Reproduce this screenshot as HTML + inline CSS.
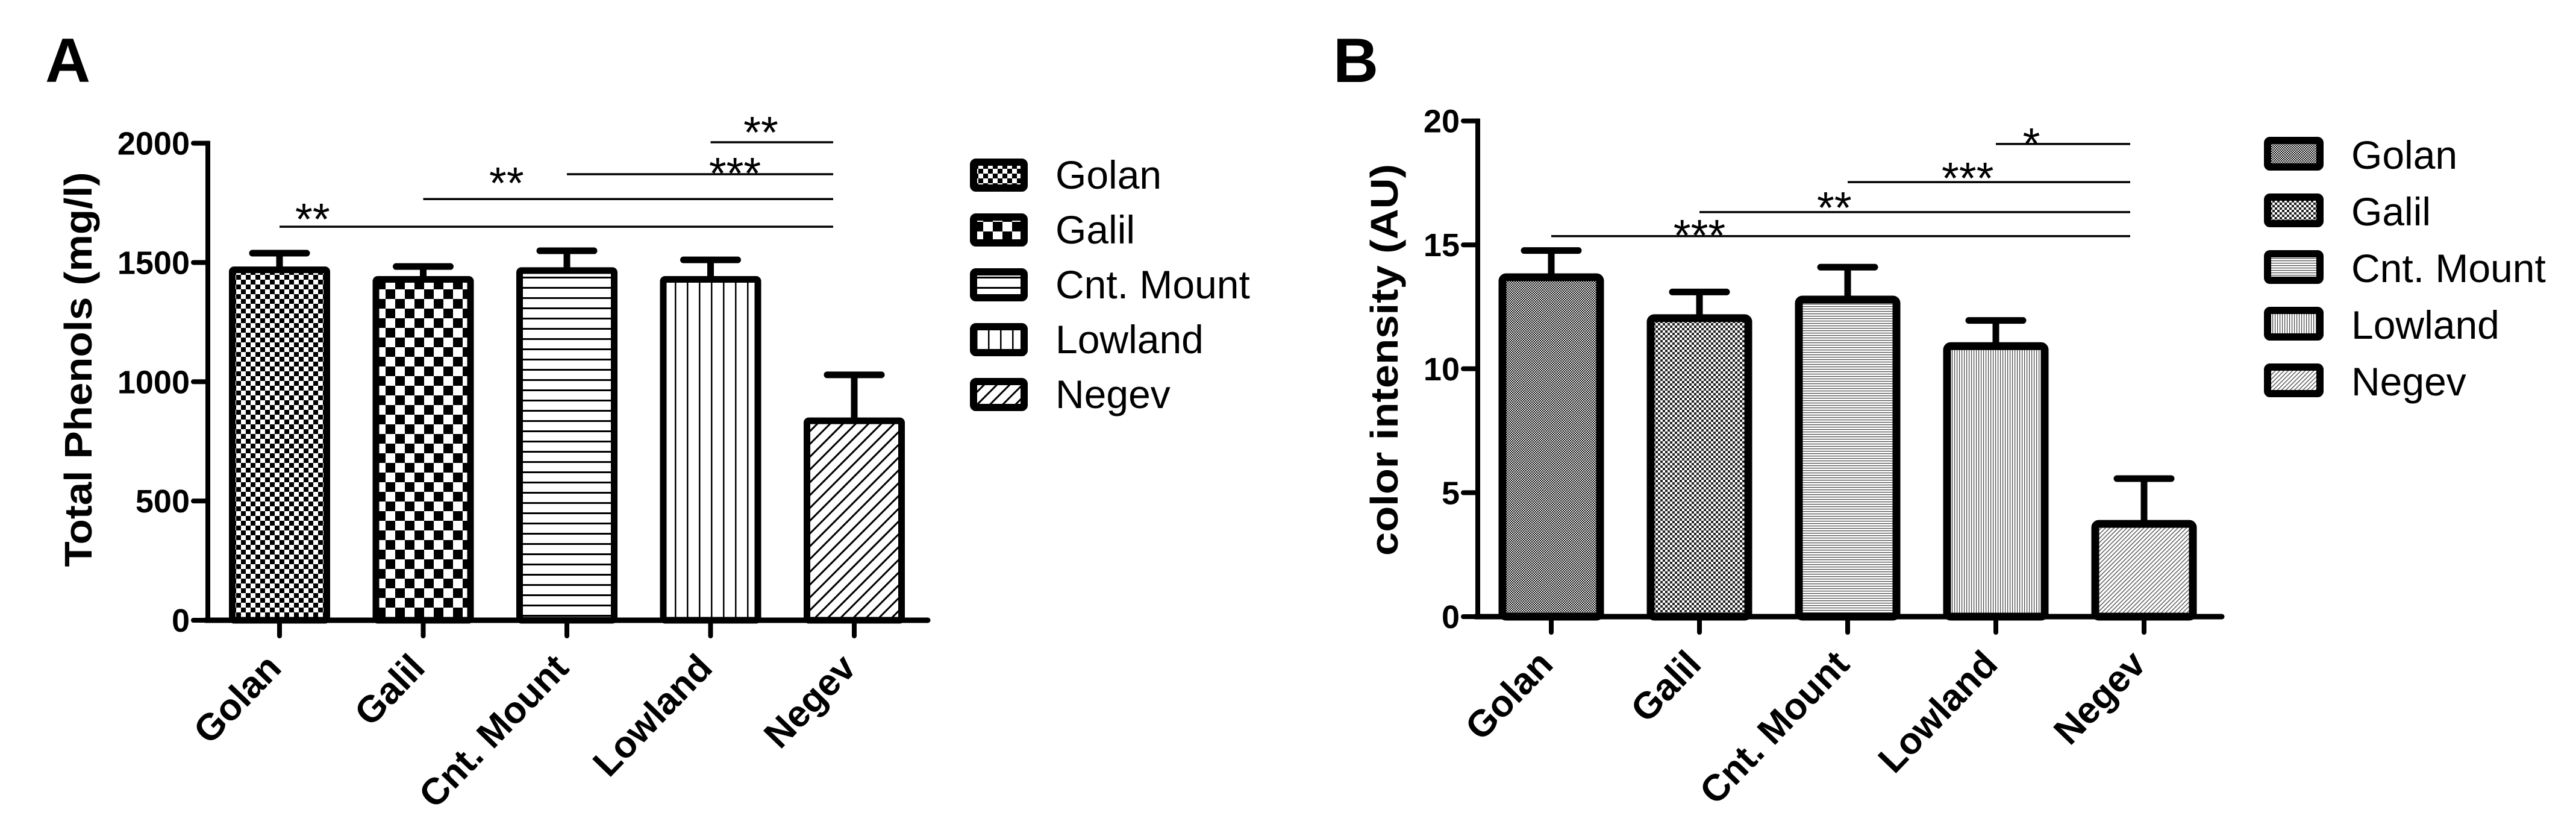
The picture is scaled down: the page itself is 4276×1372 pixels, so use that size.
<!DOCTYPE html>
<html><head><meta charset="utf-8"><style>
html,body{margin:0;padding:0;background:#fff;}
svg{display:block;font-family:"Liberation Sans",Arial,sans-serif;}
</style></head><body>
<svg id="fig" width="4276" height="1372" viewBox="0 0 4276 1372" xmlns="http://www.w3.org/2000/svg">
<defs>
<pattern id="pA0" width="16" height="16" patternUnits="userSpaceOnUse"><rect width="16" height="16" fill="#fff"/><rect width="8" height="8" fill="#000"/><rect x="8" y="8" width="8" height="8" fill="#000"/></pattern>
<pattern id="pA1" width="32" height="32" patternUnits="userSpaceOnUse"><rect width="32" height="32" fill="#fff"/><rect width="16" height="16" fill="#000"/><rect x="16" y="16" width="16" height="16" fill="#000"/></pattern>
<pattern id="pA2" width="17" height="17" patternUnits="userSpaceOnUse"><rect width="17" height="17" fill="#fff"/><rect y="0" width="17" height="3" fill="#000"/></pattern>
<pattern id="pA3" width="20" height="20" patternUnits="userSpaceOnUse"><rect width="20" height="20" fill="#fff"/><rect x="0" width="2.5" height="20" fill="#000"/></pattern>
<pattern id="pA4" width="15" height="15" patternUnits="userSpaceOnUse" patternTransform="rotate(45)"><rect width="15" height="15" fill="#fff"/><rect width="3" height="15" fill="#000"/></pattern>
<pattern id="pB0" width="4" height="4" patternUnits="userSpaceOnUse"><rect width="4" height="4" fill="#fff"/><rect width="2" height="2" fill="#000"/><rect x="2" y="2" width="2" height="2" fill="#000"/></pattern>
<pattern id="pB1" width="8" height="8" patternUnits="userSpaceOnUse"><rect width="8" height="8" fill="#fff"/><rect width="4" height="4" fill="#222"/><rect x="4" y="4" width="4" height="4" fill="#222"/></pattern>
<pattern id="pB2" width="4" height="4" patternUnits="userSpaceOnUse"><rect width="4" height="4" fill="#fff"/><rect width="4" height="1.2" fill="#444"/></pattern>
<pattern id="pB3" width="4" height="4" patternUnits="userSpaceOnUse"><rect width="4" height="4" fill="#fff"/><rect width="1.2" height="4" fill="#444"/></pattern>
<pattern id="pB4" width="5" height="5" patternUnits="userSpaceOnUse" patternTransform="rotate(45)"><rect width="5" height="5" fill="#fff"/><rect width="1.4" height="5" fill="#555"/></pattern>
</defs>
<text x="75" y="136" font-size="104" font-weight="bold">A</text>
<text x="2213" y="136" font-size="104" font-weight="bold">B</text>
<g id="chartA"></g>
<g id="chartB"></g>
</svg>
<script>
const categories = ['Golan', 'Galil', 'Cnt. Mount', 'Lowland', 'Negev'];
const phenolMeans = [1483, 1443, 1480, 1443, 850];
const phenolErr = [56, 40, 69, 68, 179];
const phenolTicks = [0, 500, 1000, 1500, 2000];
const phenolSigFrom = [3, 2, 1, 0];
const phenolSigY = [2004, 1870, 1766, 1650];
const phenolSigLabels = ['**', '***', '**', '**'];
const phenolSigLabelPos = [3.35, 3.17, 1.58, 0.23];
const phenolSigLabelY = [2082, 1911, 1870, 1718];

const colorMeans = [13.85, 12.2, 12.95, 11.07, 3.9];
const colorErr = [0.92, 0.9, 1.15, 0.88, 1.67];
const colorTicks = [0, 5, 10, 15, 20];
const colorSigFrom = [3, 2, 1, 0];
const colorSigY = [19.07, 17.53, 16.32, 15.35];
const colorSigLabels = ['*', '***', '**', '***'];
const colorSigLabelPos = [3.24, 2.81, 1.91, 1.0];
const colorSigLabelY = [19.43, 18.04, 16.85, 15.73];

const NS = 'http://www.w3.org/2000/svg';
function mk(parent, tag, attrs, text) {
  const e = document.createElementNS(NS, tag);
  for (const k in attrs) e.setAttribute(k, attrs[k]);
  if (text !== undefined) e.textContent = text;
  parent.appendChild(e);
  return e;
}

function draw(g, cfg) {
  const yS = v => cfg.y0 - (v - cfg.vmin) / (cfg.vmax - cfg.vmin) * (cfg.y0 - cfg.yTop);
  const xS = i => cfg.c0 + i * cfg.step;
  cfg.means.forEach((m, i) => {
    const sw = cfg.barStroke;
    const top = yS(m);
    const r = mk(g, 'rect', {x: xS(i) - cfg.barW / 2 + sw / 2, y: top + sw / 2, width: cfg.barW - sw, height: cfg.y0 - top - sw / 2, fill: 'url(#' + cfg.pat + i + ')', stroke: '#000', 'stroke-width': sw, rx: cfg.rx});
    
    
    const ey = yS(m + cfg.err[i]);
    const eb = mk(g, 'path', {d: 'M' + xS(i) + ' ' + top + 'V' + ey + 'M' + (xS(i) - cfg.capW / 2) + ' ' + ey + 'H' + (xS(i) + cfg.capW / 2), stroke: '#000', 'stroke-width': 11, 'stroke-linecap': 'round', fill: 'none'});
    
    
    const tk = mk(g, 'line', {x1: xS(i), x2: xS(i), y1: cfg.y0, y2: cfg.y0 + 26, stroke: '#000', 'stroke-width': 8, 'stroke-linecap': 'round'});
    
    
    const lb = mk(g, 'text', {x: 0, y: 0, transform: 'translate(' + (xS(i) + 6) + ',' + (cfg.y0 + 82) + ') rotate(-46)', 'text-anchor': 'end', 'font-size': 62, 'font-weight': 'bold'}, categories[i]);
    
    
  });
  const ya = mk(g, 'line', {x1: cfg.ax, x2: cfg.ax, y1: yS(cfg.vmax) - 4, y2: cfg.y0, stroke: '#000', 'stroke-width': 8});
  
  
  const xa = mk(g, 'line', {x1: cfg.ax - 4, x2: cfg.axEnd, y1: cfg.y0, y2: cfg.y0, stroke: '#000', 'stroke-width': 9, 'stroke-linecap': 'round'});
  
  
  cfg.ticks.forEach(t => {
    const l = mk(g, 'line', {x1: cfg.ax - 24, x2: cfg.ax, y1: yS(t), y2: yS(t), stroke: '#000', 'stroke-width': 8, 'stroke-linecap': 'round'});
    
    
    const tx = mk(g, 'text', {x: cfg.ax - 30, y: yS(t) + 19, 'text-anchor': 'end', 'font-size': 54, 'font-weight': 'bold'}, String(t));
    
    
  });
  const yt = mk(g, 'text', {x: 0, y: 0, transform: 'translate(' + cfg.titleX + ',' + cfg.titleY + ') rotate(-90)', 'text-anchor': 'middle', 'font-size': 64, 'font-weight': 'bold', textLength: cfg.titleLen, lengthAdjust: 'spacingAndGlyphs'}, cfg.title);
  
  
  cfg.sigFrom.forEach((f, k) => {
    const y = yS(cfg.sigY[k]);
    const l = mk(g, 'line', {x1: xS(f), x2: cfg.sigEnd, y1: y, y2: y, stroke: '#000', 'stroke-width': 3.5});
    
    
    const s = mk(g, 'text', {x: xS(cfg.sigPos[k]), y: yS(cfg.sigLabY[k]) + 40, 'text-anchor': 'middle', 'font-size': 74}, cfg.sigLab[k]);
    
    
  });
  categories.forEach((c, i) => {
    const top = cfg.legTop + i * cfg.legStep;
    const lg = mk(g, 'g', {});
    
    
    const sw = 12;
    mk(lg, 'rect', {x: cfg.legX + sw / 2, y: top + sw / 2, width: cfg.legW - sw, height: cfg.legH - sw, fill: 'url(#' + cfg.pat + i + ')', stroke: '#000', 'stroke-width': sw, rx: 4});
    mk(lg, 'text', {x: cfg.legTextX, y: top + cfg.legBase, 'font-size': 66}, c);
  });
}

draw(document.getElementById('chartA'), {
  means: phenolMeans, err: phenolErr, ticks: phenolTicks, vmin: 0, vmax: 2000,
  y0: 1029, yTop: 237.6, c0: 464, step: 238.5, barW: 168, barStroke: 11, rx: 3, capW: 90,
  ax: 345, axEnd: 1540, pat: 'pA',
  title: 'Total Phenols (mg/l)', titleX: 152, titleY: 613, titleLen: 655,
  sigFrom: phenolSigFrom, sigY: phenolSigY, sigLab: phenolSigLabels, sigPos: phenolSigLabelPos, sigLabY: phenolSigLabelY, sigEnd: 1383,
  legX: 1610, legW: 96, legH: 55, legTop: 263, legStep: 91, legTextX: 1752, legBase: 50
});
draw(document.getElementById('chartB'), {
  means: colorMeans, err: colorErr, ticks: colorTicks, vmin: 0, vmax: 20,
  y0: 1023, yTop: 200.6, c0: 2575, step: 246, barW: 175, barStroke: 13, rx: 6, capW: 90,
  ax: 2453, axEnd: 3688, pat: 'pB',
  title: 'color intensity (AU)', titleX: 2320, titleY: 597, titleLen: 650,
  sigFrom: colorSigFrom, sigY: colorSigY, sigLab: colorSigLabels, sigPos: colorSigLabelPos, sigLabY: colorSigLabelY, sigEnd: 3536,
  legX: 3758, legW: 99, legH: 56, legTop: 227, legStep: 94, legTextX: 3903, legBase: 53
});
</script>
</body></html>
